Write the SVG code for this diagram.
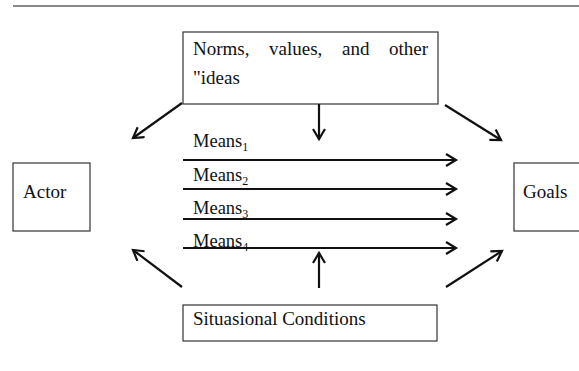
<svg xmlns="http://www.w3.org/2000/svg" width="579" height="371" viewBox="0 0 579 371">
<defs>
<style>
.box{fill:#fff;stroke:#333;stroke-width:1.2}
.t{font-family:"Liberation Serif","Times New Roman",serif;font-size:19px;fill:#111}
.m{font-family:"Liberation Serif","Times New Roman",serif;font-size:18.5px;fill:#111}
.sub{font-size:12px}
.c{stroke:#111;stroke-width:2.2;fill:none}
</style>
<marker id="ah" markerUnits="userSpaceOnUse" markerWidth="16" markerHeight="16" refX="11" refY="7" orient="auto">
<path d="M1,1 L11,7 L1,13" fill="none" stroke="#111" stroke-width="2.2"/>
</marker>
</defs>
<rect width="579" height="371" fill="#fff"/>
<line x1="13" y1="6" x2="579" y2="6" stroke="#111" stroke-width="1.2"/>
<g id="norms">
<rect class="box" x="183" y="32" width="255" height="72"/>
<text class="t" y="55"><tspan x="193">Norms,</tspan><tspan x="269">values,</tspan><tspan x="342">and</tspan><tspan x="389">other</tspan></text>
<text class="t" x="193" y="84">"ideas</text>
</g>
<g id="actor">
<rect class="box" x="13" y="163" width="77" height="68"/>
<text class="t" x="23" y="198">Actor</text>
</g>
<g id="goals">
<rect class="box" x="514" y="163" width="70" height="68"/>
<text class="t" x="523" y="198">Goals</text>
</g>
<g id="situational">
<rect class="box" x="183" y="305" width="254" height="36"/>
<text class="t" x="193" y="325">Situasional Conditions</text>
</g>
<g id="means-labels">
<text class="m" x="193" y="147">Means<tspan class="sub" dy="4">1</tspan></text>
<text class="m" x="193" y="181">Means<tspan class="sub" dy="4">2</tspan></text>
<text class="m" x="193" y="214">Means<tspan class="sub" dy="4">3</tspan></text>
<text class="m" x="193" y="247">Means<tspan class="sub" dy="4">4</tspan></text>
</g>
<g id="connectors">
<line class="c" x1="183" y1="160" x2="456" y2="160" marker-end="url(#ah)"/>
<line class="c" x1="183" y1="189" x2="456" y2="189" marker-end="url(#ah)"/>
<line class="c" x1="183" y1="219" x2="456" y2="219" marker-end="url(#ah)"/>
<line class="c" x1="183" y1="248" x2="456" y2="248" marker-end="url(#ah)"/>
<line class="c" x1="319" y1="104" x2="319" y2="139" marker-end="url(#ah)"/>
<line class="c" x1="319" y1="288" x2="319" y2="253" marker-end="url(#ah)"/>
<line class="c" x1="182" y1="103" x2="133" y2="138" marker-end="url(#ah)"/>
<line class="c" x1="445" y1="105" x2="501" y2="140" marker-end="url(#ah)"/>
<line class="c" x1="182" y1="287" x2="133" y2="250" marker-end="url(#ah)"/>
<line class="c" x1="446" y1="287" x2="502" y2="251" marker-end="url(#ah)"/>
</g>
</svg>
